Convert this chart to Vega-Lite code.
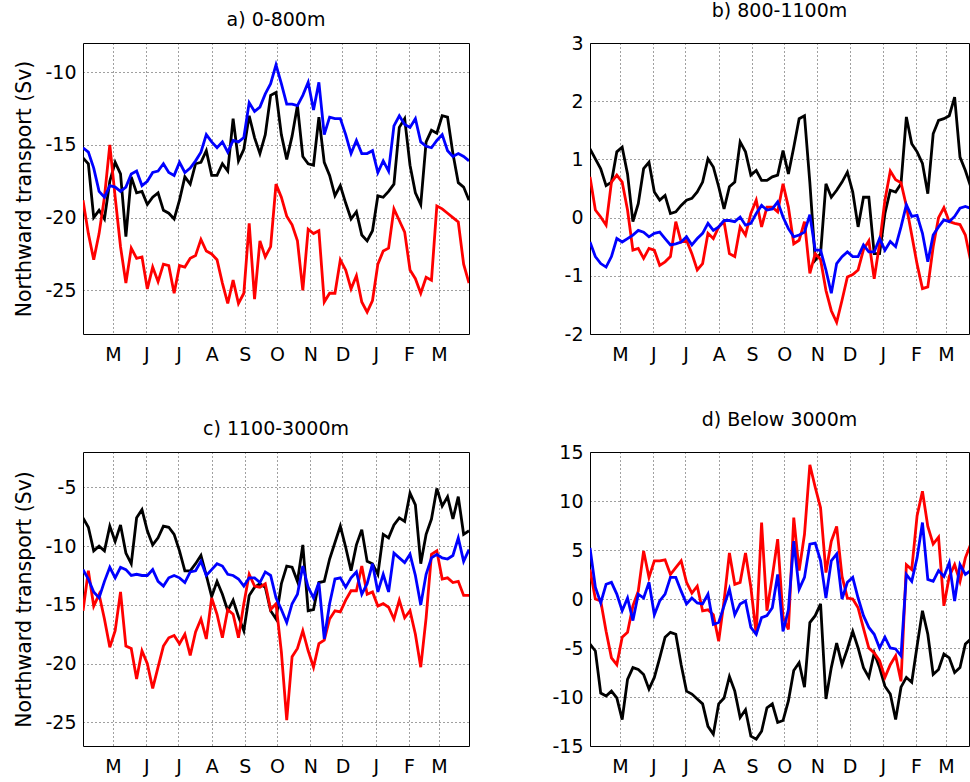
{
"$schema": "https://vega.github.io/schema/vega-lite/v6.json",
"padding": {"left": 14, "top": 1, "right": 0, "bottom": 0},
"background": "white",
"config": {
  "font": "DejaVu Sans",
  "view": {"stroke": "#000", "strokeWidth": 1},
  "axis": {"labelFont": "DejaVu Sans", "labelFontSize": 19, "labelColor": "#000", "grid": true, "gridColor": "#000", "gridDash": [1, 3], "gridOpacity": 0.75, "domain": false, "ticks": false, "titleFont": "DejaVu Sans", "titleFontSize": 20.5, "titleFontWeight": "normal", "titleColor": "#000"},
  "axisX": {"labelPadding": 11},
  "axisY": {"labelPadding": 7, "titlePadding": 10},
  "title": {"font": "DejaVu Sans", "fontSize": 19, "fontWeight": "normal", "color": "#000", "offset": 13, "baseline": "alphabetic", "anchor": "middle"}
},
"columns": 2,
"spacing": {"row": 118, "column": 121},
"bounds": "flush",
"datasets": {
"a": [
{"s":"k","d":0,"v":-15.9},{"s":"k","d":5,"v":-16.3},{"s":"k","d":10,"v":-20.0},{"s":"k","d":15,"v":-19.5},{"s":"k","d":20,"v":-20.1},{"s":"k","d":25,"v":-17.5},{"s":"k","d":30,"v":-16.2},{"s":"k","d":35,"v":-17.0},{"s":"k","d":40,"v":-21.3},{"s":"k","d":45,"v":-17.2},
{"s":"k","d":50,"v":-18.3},{"s":"k","d":55,"v":-18.2},{"s":"k","d":60,"v":-19.1},{"s":"k","d":65,"v":-18.6},{"s":"k","d":70,"v":-18.3},{"s":"k","d":75,"v":-19.5},{"s":"k","d":80,"v":-19.7},{"s":"k","d":85,"v":-20.1},{"s":"k","d":90,"v":-18.8},{"s":"k","d":95,"v":-17.2},
{"s":"k","d":100,"v":-17.7},{"s":"k","d":105,"v":-16.3},{"s":"k","d":110,"v":-16.2},{"s":"k","d":115,"v":-15.4},{"s":"k","d":120,"v":-17.1},{"s":"k","d":125,"v":-17.1},{"s":"k","d":130,"v":-16.3},{"s":"k","d":135,"v":-16.8},{"s":"k","d":140,"v":-13.2},{"s":"k","d":145,"v":-16.1},
{"s":"k","d":150,"v":-15.3},{"s":"k","d":155,"v":-13.0},{"s":"k","d":160,"v":-14.5},{"s":"k","d":165,"v":-15.6},{"s":"k","d":170,"v":-14.3},{"s":"k","d":175,"v":-11.6},{"s":"k","d":180,"v":-11.4},{"s":"k","d":185,"v":-14.3},{"s":"k","d":190,"v":-16.0},{"s":"k","d":195,"v":-14.4},
{"s":"k","d":200,"v":-12.3},{"s":"k","d":205,"v":-15.8},{"s":"k","d":210,"v":-16.3},{"s":"k","d":215,"v":-16.4},{"s":"k","d":220,"v":-13.1},{"s":"k","d":225,"v":-16.2},{"s":"k","d":230,"v":-17.1},{"s":"k","d":235,"v":-18.5},{"s":"k","d":240,"v":-17.8},{"s":"k","d":245,"v":-19.0},
{"s":"k","d":250,"v":-20.1},{"s":"k","d":255,"v":-19.6},{"s":"k","d":260,"v":-21.2},{"s":"k","d":265,"v":-21.6},{"s":"k","d":270,"v":-20.9},{"s":"k","d":275,"v":-18.5},{"s":"k","d":280,"v":-18.6},{"s":"k","d":285,"v":-18.2},{"s":"k","d":290,"v":-17.7},{"s":"k","d":295,"v":-13.8},
{"s":"k","d":300,"v":-13.2},{"s":"k","d":305,"v":-16.4},{"s":"k","d":310,"v":-18.3},{"s":"k","d":315,"v":-19.1},{"s":"k","d":320,"v":-14.8},{"s":"k","d":325,"v":-14.0},{"s":"k","d":330,"v":-14.2},{"s":"k","d":335,"v":-13.0},{"s":"k","d":340,"v":-13.1},{"s":"k","d":345,"v":-15.6},
{"s":"k","d":350,"v":-17.6},{"s":"k","d":355,"v":-17.9},{"s":"k","d":360,"v":-18.8},
{"s":"r","d":0,"v":-18.8},{"s":"r","d":5,"v":-21.1},{"s":"r","d":10,"v":-22.9},{"s":"r","d":15,"v":-21.1},{"s":"r","d":20,"v":-18.6},{"s":"r","d":25,"v":-15.0},{"s":"r","d":30,"v":-18.6},{"s":"r","d":35,"v":-22.0},{"s":"r","d":40,"v":-24.5},{"s":"r","d":45,"v":-22.1},
{"s":"r","d":50,"v":-22.8},{"s":"r","d":55,"v":-22.7},{"s":"r","d":60,"v":-24.9},{"s":"r","d":65,"v":-23.4},{"s":"r","d":70,"v":-24.4},{"s":"r","d":75,"v":-23.2},{"s":"r","d":80,"v":-23.3},{"s":"r","d":85,"v":-25.2},{"s":"r","d":90,"v":-23.3},{"s":"r","d":95,"v":-23.4},
{"s":"r","d":100,"v":-22.8},{"s":"r","d":105,"v":-22.6},{"s":"r","d":110,"v":-21.5},{"s":"r","d":115,"v":-22.3},{"s":"r","d":120,"v":-22.5},{"s":"r","d":125,"v":-22.9},{"s":"r","d":130,"v":-24.5},{"s":"r","d":135,"v":-25.9},{"s":"r","d":140,"v":-24.3},{"s":"r","d":145,"v":-25.9},
{"s":"r","d":150,"v":-25.2},{"s":"r","d":155,"v":-20.4},{"s":"r","d":160,"v":-25.6},{"s":"r","d":165,"v":-21.6},{"s":"r","d":170,"v":-22.7},{"s":"r","d":175,"v":-22.0},{"s":"r","d":180,"v":-17.7},{"s":"r","d":185,"v":-18.6},{"s":"r","d":190,"v":-19.9},{"s":"r","d":195,"v":-20.5},
{"s":"r","d":200,"v":-21.6},{"s":"r","d":205,"v":-25.0},{"s":"r","d":210,"v":-20.8},{"s":"r","d":215,"v":-21.1},{"s":"r","d":220,"v":-20.9},{"s":"r","d":225,"v":-25.8},{"s":"r","d":230,"v":-25.2},{"s":"r","d":235,"v":-25.2},{"s":"r","d":240,"v":-22.9},{"s":"r","d":245,"v":-23.6},
{"s":"r","d":250,"v":-24.9},{"s":"r","d":255,"v":-24.0},{"s":"r","d":260,"v":-25.8},{"s":"r","d":265,"v":-26.5},{"s":"r","d":270,"v":-25.7},{"s":"r","d":275,"v":-23.2},{"s":"r","d":280,"v":-22.3},{"s":"r","d":285,"v":-22.1},{"s":"r","d":290,"v":-19.4},{"s":"r","d":295,"v":-20.2},
{"s":"r","d":300,"v":-21.0},{"s":"r","d":305,"v":-23.6},{"s":"r","d":310,"v":-24.2},{"s":"r","d":315,"v":-25.2},{"s":"r","d":320,"v":-24.1},{"s":"r","d":325,"v":-24.3},{"s":"r","d":330,"v":-19.2},{"s":"r","d":335,"v":-19.4},{"s":"r","d":340,"v":-19.7},{"s":"r","d":345,"v":-20.0},
{"s":"r","d":350,"v":-20.3},{"s":"r","d":355,"v":-23.2},{"s":"r","d":360,"v":-24.5},
{"s":"b","d":0,"v":-15.2},{"s":"b","d":5,"v":-15.5},{"s":"b","d":10,"v":-16.6},{"s":"b","d":15,"v":-18.2},{"s":"b","d":20,"v":-18.6},{"s":"b","d":25,"v":-17.8},{"s":"b","d":30,"v":-17.9},{"s":"b","d":35,"v":-18.2},{"s":"b","d":40,"v":-17.9},{"s":"b","d":45,"v":-17.0},
{"s":"b","d":50,"v":-16.8},{"s":"b","d":55,"v":-17.8},{"s":"b","d":60,"v":-17.5},{"s":"b","d":65,"v":-16.9},{"s":"b","d":70,"v":-16.8},{"s":"b","d":75,"v":-16.3},{"s":"b","d":80,"v":-16.9},{"s":"b","d":85,"v":-17.1},{"s":"b","d":90,"v":-16.2},{"s":"b","d":95,"v":-16.9},
{"s":"b","d":100,"v":-16.6},{"s":"b","d":105,"v":-16.1},{"s":"b","d":110,"v":-15.5},{"s":"b","d":115,"v":-14.3},{"s":"b","d":120,"v":-14.8},{"s":"b","d":125,"v":-15.2},{"s":"b","d":130,"v":-14.8},{"s":"b","d":135,"v":-15.5},{"s":"b","d":140,"v":-14.7},{"s":"b","d":145,"v":-14.8},
{"s":"b","d":150,"v":-14.5},{"s":"b","d":155,"v":-12.1},{"s":"b","d":160,"v":-12.7},{"s":"b","d":165,"v":-12.4},{"s":"b","d":170,"v":-11.5},{"s":"b","d":175,"v":-10.8},{"s":"b","d":180,"v":-9.5},{"s":"b","d":185,"v":-10.8},{"s":"b","d":190,"v":-12.2},{"s":"b","d":195,"v":-12.2},
{"s":"b","d":200,"v":-12.3},{"s":"b","d":205,"v":-11.6},{"s":"b","d":210,"v":-10.7},{"s":"b","d":215,"v":-12.6},{"s":"b","d":220,"v":-10.7},{"s":"b","d":225,"v":-14.3},{"s":"b","d":230,"v":-13.1},{"s":"b","d":235,"v":-13.2},{"s":"b","d":240,"v":-13.2},{"s":"b","d":245,"v":-14.3},
{"s":"b","d":250,"v":-15.6},{"s":"b","d":255,"v":-14.7},{"s":"b","d":260,"v":-15.6},{"s":"b","d":265,"v":-15.6},{"s":"b","d":270,"v":-15.4},{"s":"b","d":275,"v":-16.9},{"s":"b","d":280,"v":-16.1},{"s":"b","d":285,"v":-16.8},{"s":"b","d":290,"v":-13.7},{"s":"b","d":295,"v":-13.0},
{"s":"b","d":300,"v":-13.6},{"s":"b","d":305,"v":-13.8},{"s":"b","d":310,"v":-13.2},{"s":"b","d":315,"v":-14.8},{"s":"b","d":320,"v":-15.1},{"s":"b","d":325,"v":-15.2},{"s":"b","d":330,"v":-14.7},{"s":"b","d":335,"v":-14.3},{"s":"b","d":340,"v":-15.4},{"s":"b","d":345,"v":-15.8},
{"s":"b","d":350,"v":-15.6},{"s":"b","d":355,"v":-15.8},{"s":"b","d":360,"v":-16.1}
],
"b": [
{"s":"k","d":0,"v":1.18},{"s":"k","d":5,"v":1.01},{"s":"k","d":10,"v":0.84},{"s":"k","d":15,"v":0.55},{"s":"k","d":20,"v":0.61},{"s":"k","d":25,"v":1.13},{"s":"k","d":30,"v":1.21},{"s":"k","d":35,"v":0.75},{"s":"k","d":40,"v":-0.07},{"s":"k","d":45,"v":0.24},
{"s":"k","d":50,"v":0.84},{"s":"k","d":55,"v":0.95},{"s":"k","d":60,"v":0.44},{"s":"k","d":65,"v":0.30},{"s":"k","d":70,"v":0.38},{"s":"k","d":75,"v":0.07},{"s":"k","d":80,"v":0.10},{"s":"k","d":85,"v":0.21},{"s":"k","d":90,"v":0.30},{"s":"k","d":95,"v":0.33},
{"s":"k","d":100,"v":0.44},{"s":"k","d":105,"v":0.61},{"s":"k","d":110,"v":1.01},{"s":"k","d":115,"v":0.87},{"s":"k","d":120,"v":0.53},{"s":"k","d":125,"v":0.15},{"s":"k","d":130,"v":0.53},{"s":"k","d":135,"v":0.61},{"s":"k","d":140,"v":1.30},{"s":"k","d":145,"v":1.13},
{"s":"k","d":150,"v":0.73},{"s":"k","d":155,"v":0.81},{"s":"k","d":160,"v":0.64},{"s":"k","d":165,"v":0.64},{"s":"k","d":170,"v":0.70},{"s":"k","d":175,"v":0.73},{"s":"k","d":180,"v":1.15},{"s":"k","d":185,"v":0.75},{"s":"k","d":190,"v":1.21},{"s":"k","d":195,"v":1.70},
{"s":"k","d":200,"v":1.75},{"s":"k","d":205,"v":0.60},{"s":"k","d":210,"v":-0.73},{"s":"k","d":215,"v":-0.62},{"s":"k","d":220,"v":0.58},{"s":"k","d":225,"v":0.35},{"s":"k","d":230,"v":0.47},{"s":"k","d":235,"v":0.61},{"s":"k","d":240,"v":0.78},{"s":"k","d":245,"v":0.44},
{"s":"k","d":250,"v":-0.16},{"s":"k","d":255,"v":0.35},{"s":"k","d":260,"v":0.35},{"s":"k","d":265,"v":-0.62},{"s":"k","d":270,"v":-0.62},{"s":"k","d":275,"v":0.07},{"s":"k","d":280,"v":0.47},{"s":"k","d":285,"v":0.44},{"s":"k","d":290,"v":0.58},{"s":"k","d":295,"v":1.73},
{"s":"k","d":300,"v":1.27},{"s":"k","d":305,"v":1.13},{"s":"k","d":310,"v":0.93},{"s":"k","d":315,"v":0.41},{"s":"k","d":320,"v":1.44},{"s":"k","d":325,"v":1.67},{"s":"k","d":330,"v":1.70},{"s":"k","d":335,"v":1.75},{"s":"k","d":340,"v":2.07},{"s":"k","d":345,"v":1.04},
{"s":"k","d":350,"v":0.81},{"s":"k","d":355,"v":0.53},{"s":"k","d":360,"v":0.40},
{"s":"r","d":0,"v":0.70},{"s":"r","d":5,"v":0.13},{"s":"r","d":10,"v":0.01},{"s":"r","d":15,"v":-0.13},{"s":"r","d":20,"v":0.61},{"s":"r","d":25,"v":0.73},{"s":"r","d":30,"v":0.61},{"s":"r","d":35,"v":0.13},{"s":"r","d":40,"v":-0.56},{"s":"r","d":45,"v":-0.53},
{"s":"r","d":50,"v":-0.70},{"s":"r","d":55,"v":-0.53},{"s":"r","d":60,"v":-0.56},{"s":"r","d":65,"v":-0.82},{"s":"r","d":70,"v":-0.76},{"s":"r","d":75,"v":-0.67},{"s":"r","d":80,"v":-0.07},{"s":"r","d":85,"v":-0.42},{"s":"r","d":90,"v":-0.39},{"s":"r","d":95,"v":-0.62},
{"s":"r","d":100,"v":-0.90},{"s":"r","d":105,"v":-0.79},{"s":"r","d":110,"v":-0.27},{"s":"r","d":115,"v":-0.36},{"s":"r","d":120,"v":-0.16},{"s":"r","d":125,"v":-0.07},{"s":"r","d":130,"v":-0.62},{"s":"r","d":135,"v":-0.67},{"s":"r","d":140,"v":-0.16},{"s":"r","d":145,"v":-0.30},
{"s":"r","d":150,"v":0.07},{"s":"r","d":155,"v":0.30},{"s":"r","d":160,"v":-0.16},{"s":"r","d":165,"v":0.18},{"s":"r","d":170,"v":0.18},{"s":"r","d":175,"v":0.10},{"s":"r","d":180,"v":0.58},{"s":"r","d":185,"v":0.18},{"s":"r","d":190,"v":-0.45},{"s":"r","d":195,"v":-0.39},
{"s":"r","d":200,"v":-0.07},{"s":"r","d":205,"v":-0.96},{"s":"r","d":210,"v":-0.62},{"s":"r","d":215,"v":-0.72},{"s":"r","d":220,"v":-1.25},{"s":"r","d":225,"v":-1.60},{"s":"r","d":230,"v":-1.80},{"s":"r","d":235,"v":-1.42},{"s":"r","d":240,"v":-1.02},{"s":"r","d":245,"v":-0.98},
{"s":"r","d":250,"v":-0.90},{"s":"r","d":255,"v":-0.55},{"s":"r","d":260,"v":-0.40},{"s":"r","d":265,"v":-1.05},{"s":"r","d":270,"v":-0.45},{"s":"r","d":275,"v":0.30},{"s":"r","d":280,"v":0.80},{"s":"r","d":285,"v":0.65},{"s":"r","d":290,"v":0.60},{"s":"r","d":295,"v":0.20},
{"s":"r","d":300,"v":-0.30},{"s":"r","d":305,"v":-0.80},{"s":"r","d":310,"v":-1.22},{"s":"r","d":315,"v":-1.19},{"s":"r","d":320,"v":-0.50},{"s":"r","d":325,"v":0.00},{"s":"r","d":330,"v":0.17},{"s":"r","d":335,"v":-0.07},{"s":"r","d":340,"v":-0.10},{"s":"r","d":345,"v":-0.12},
{"s":"r","d":350,"v":-0.30},{"s":"r","d":355,"v":-0.75},{"s":"r","d":360,"v":-0.90},
{"s":"b","d":0,"v":-0.42},{"s":"b","d":5,"v":-0.67},{"s":"b","d":10,"v":-0.79},{"s":"b","d":15,"v":-0.85},{"s":"b","d":20,"v":-0.67},{"s":"b","d":25,"v":-0.36},{"s":"b","d":30,"v":-0.42},{"s":"b","d":35,"v":-0.36},{"s":"b","d":40,"v":-0.30},{"s":"b","d":45,"v":-0.22},
{"s":"b","d":50,"v":-0.25},{"s":"b","d":55,"v":-0.33},{"s":"b","d":60,"v":-0.27},{"s":"b","d":65,"v":-0.25},{"s":"b","d":70,"v":-0.36},{"s":"b","d":75,"v":-0.47},{"s":"b","d":80,"v":-0.45},{"s":"b","d":85,"v":-0.42},{"s":"b","d":90,"v":-0.33},{"s":"b","d":95,"v":-0.47},
{"s":"b","d":100,"v":-0.36},{"s":"b","d":105,"v":-0.27},{"s":"b","d":110,"v":-0.10},{"s":"b","d":115,"v":-0.22},{"s":"b","d":120,"v":-0.16},{"s":"b","d":125,"v":-0.05},{"s":"b","d":130,"v":-0.05},{"s":"b","d":135,"v":-0.07},{"s":"b","d":140,"v":0.01},{"s":"b","d":145,"v":-0.13},
{"s":"b","d":150,"v":-0.10},{"s":"b","d":155,"v":0.07},{"s":"b","d":160,"v":0.21},{"s":"b","d":165,"v":0.13},{"s":"b","d":170,"v":0.15},{"s":"b","d":175,"v":0.27},{"s":"b","d":180,"v":0.01},{"s":"b","d":185,"v":-0.19},{"s":"b","d":190,"v":-0.33},{"s":"b","d":195,"v":-0.30},
{"s":"b","d":200,"v":-0.25},{"s":"b","d":205,"v":0.05},{"s":"b","d":210,"v":-0.56},{"s":"b","d":215,"v":-0.56},{"s":"b","d":220,"v":-0.90},{"s":"b","d":225,"v":-1.30},{"s":"b","d":230,"v":-0.79},{"s":"b","d":235,"v":-0.67},{"s":"b","d":240,"v":-0.59},{"s":"b","d":245,"v":-0.67},
{"s":"b","d":250,"v":-0.67},{"s":"b","d":255,"v":-0.47},{"s":"b","d":260,"v":-0.59},{"s":"b","d":265,"v":-0.59},{"s":"b","d":270,"v":-0.36},{"s":"b","d":275,"v":-0.56},{"s":"b","d":280,"v":-0.41},{"s":"b","d":285,"v":-0.50},{"s":"b","d":290,"v":-0.16},{"s":"b","d":295,"v":0.22},
{"s":"b","d":300,"v":0.02},{"s":"b","d":305,"v":0.04},{"s":"b","d":310,"v":-0.27},{"s":"b","d":315,"v":-0.76},{"s":"b","d":320,"v":-0.30},{"s":"b","d":325,"v":-0.16},{"s":"b","d":330,"v":-0.04},{"s":"b","d":335,"v":-0.07},{"s":"b","d":340,"v":0.02},{"s":"b","d":345,"v":0.16},
{"s":"b","d":350,"v":0.19},{"s":"b","d":355,"v":0.16},{"s":"b","d":360,"v":0.10}
],
"c": [
{"s":"k","d":0,"v":-7.6},{"s":"k","d":5,"v":-8.4},{"s":"k","d":10,"v":-10.4},{"s":"k","d":15,"v":-10.0},{"s":"k","d":20,"v":-10.4},{"s":"k","d":25,"v":-8.3},{"s":"k","d":30,"v":-9.6},{"s":"k","d":35,"v":-8.2},{"s":"k","d":40,"v":-10.6},{"s":"k","d":45,"v":-11.5},
{"s":"k","d":50,"v":-7.6},{"s":"k","d":55,"v":-6.9},{"s":"k","d":60,"v":-8.7},{"s":"k","d":65,"v":-9.9},{"s":"k","d":70,"v":-9.3},{"s":"k","d":75,"v":-8.3},{"s":"k","d":80,"v":-8.4},{"s":"k","d":85,"v":-9.0},{"s":"k","d":90,"v":-10.4},{"s":"k","d":95,"v":-12.1},
{"s":"k","d":100,"v":-12.1},{"s":"k","d":105,"v":-11.5},{"s":"k","d":110,"v":-10.8},{"s":"k","d":115,"v":-12.5},{"s":"k","d":120,"v":-14.3},{"s":"k","d":125,"v":-13.0},{"s":"k","d":130,"v":-14.1},{"s":"k","d":135,"v":-15.5},{"s":"k","d":140,"v":-14.6},{"s":"k","d":145,"v":-16.0},
{"s":"k","d":150,"v":-17.2},{"s":"k","d":155,"v":-14.2},{"s":"k","d":160,"v":-13.5},{"s":"k","d":165,"v":-13.2},{"s":"k","d":170,"v":-13.5},{"s":"k","d":175,"v":-15.5},{"s":"k","d":180,"v":-16.2},{"s":"k","d":185,"v":-13.2},{"s":"k","d":190,"v":-11.7},{"s":"k","d":195,"v":-11.8},
{"s":"k","d":200,"v":-13.0},{"s":"k","d":205,"v":-9.9},{"s":"k","d":210,"v":-15.5},{"s":"k","d":215,"v":-15.4},{"s":"k","d":220,"v":-13.1},{"s":"k","d":225,"v":-13.0},{"s":"k","d":230,"v":-11.1},{"s":"k","d":235,"v":-9.7},{"s":"k","d":240,"v":-8.3},{"s":"k","d":245,"v":-10.1},
{"s":"k","d":250,"v":-12.1},{"s":"k","d":255,"v":-9.9},{"s":"k","d":260,"v":-8.6},{"s":"k","d":265,"v":-11.3},{"s":"k","d":270,"v":-11.5},{"s":"k","d":275,"v":-12.4},{"s":"k","d":280,"v":-9.0},{"s":"k","d":285,"v":-9.3},{"s":"k","d":290,"v":-8.2},{"s":"k","d":295,"v":-7.6},
{"s":"k","d":300,"v":-7.9},{"s":"k","d":305,"v":-5.5},{"s":"k","d":310,"v":-6.5},{"s":"k","d":315,"v":-11.5},{"s":"k","d":320,"v":-9.0},{"s":"k","d":325,"v":-7.7},{"s":"k","d":330,"v":-5.1},{"s":"k","d":335,"v":-6.6},{"s":"k","d":340,"v":-5.8},{"s":"k","d":345,"v":-7.7},
{"s":"k","d":350,"v":-5.8},{"s":"k","d":355,"v":-9.0},{"s":"k","d":360,"v":-8.7},
{"s":"r","d":0,"v":-15.5},{"s":"r","d":5,"v":-12.1},{"s":"r","d":10,"v":-15.1},{"s":"r","d":15,"v":-14.1},{"s":"r","d":20,"v":-16.2},{"s":"r","d":25,"v":-18.6},{"s":"r","d":30,"v":-17.2},{"s":"r","d":35,"v":-13.9},{"s":"r","d":40,"v":-18.5},{"s":"r","d":45,"v":-18.7},
{"s":"r","d":50,"v":-21.3},{"s":"r","d":55,"v":-18.9},{"s":"r","d":60,"v":-20.0},{"s":"r","d":65,"v":-22.1},{"s":"r","d":70,"v":-20.3},{"s":"r","d":75,"v":-18.5},{"s":"r","d":80,"v":-17.8},{"s":"r","d":85,"v":-17.6},{"s":"r","d":90,"v":-18.3},{"s":"r","d":95,"v":-17.5},
{"s":"r","d":100,"v":-19.3},{"s":"r","d":105,"v":-17.3},{"s":"r","d":110,"v":-16.2},{"s":"r","d":115,"v":-17.9},{"s":"r","d":120,"v":-14.4},{"s":"r","d":125,"v":-15.8},{"s":"r","d":130,"v":-17.8},{"s":"r","d":135,"v":-15.4},{"s":"r","d":140,"v":-15.8},{"s":"r","d":145,"v":-17.8},
{"s":"r","d":150,"v":-14.9},{"s":"r","d":155,"v":-12.4},{"s":"r","d":160,"v":-13.4},{"s":"r","d":165,"v":-13.5},{"s":"r","d":170,"v":-13.2},{"s":"r","d":175,"v":-15.4},{"s":"r","d":180,"v":-14.9},{"s":"r","d":185,"v":-19.0},{"s":"r","d":190,"v":-24.8},{"s":"r","d":195,"v":-19.4},
{"s":"r","d":200,"v":-18.7},{"s":"r","d":205,"v":-17.2},{"s":"r","d":210,"v":-18.9},{"s":"r","d":215,"v":-20.3},{"s":"r","d":220,"v":-18.3},{"s":"r","d":225,"v":-18.0},{"s":"r","d":230,"v":-16.2},{"s":"r","d":235,"v":-15.5},{"s":"r","d":240,"v":-15.6},{"s":"r","d":245,"v":-14.6},
{"s":"r","d":250,"v":-13.8},{"s":"r","d":255,"v":-13.8},{"s":"r","d":260,"v":-11.7},{"s":"r","d":265,"v":-14.1},{"s":"r","d":270,"v":-13.9},{"s":"r","d":275,"v":-15.1},{"s":"r","d":280,"v":-14.9},{"s":"r","d":285,"v":-15.2},{"s":"r","d":290,"v":-16.2},{"s":"r","d":295,"v":-14.6},
{"s":"r","d":300,"v":-16.1},{"s":"r","d":305,"v":-15.5},{"s":"r","d":310,"v":-17.5},{"s":"r","d":315,"v":-20.3},{"s":"r","d":320,"v":-16.1},{"s":"r","d":325,"v":-10.7},{"s":"r","d":330,"v":-10.4},{"s":"r","d":335,"v":-12.8},{"s":"r","d":340,"v":-12.7},{"s":"r","d":345,"v":-13.1},
{"s":"r","d":350,"v":-13.0},{"s":"r","d":355,"v":-14.2},{"s":"r","d":360,"v":-14.2},
{"s":"b","d":0,"v":-12.0},{"s":"b","d":5,"v":-12.8},{"s":"b","d":10,"v":-13.9},{"s":"b","d":15,"v":-14.4},{"s":"b","d":20,"v":-13.0},{"s":"b","d":25,"v":-11.8},{"s":"b","d":30,"v":-12.7},{"s":"b","d":35,"v":-11.8},{"s":"b","d":40,"v":-12.0},{"s":"b","d":45,"v":-12.5},
{"s":"b","d":50,"v":-12.4},{"s":"b","d":55,"v":-12.5},{"s":"b","d":60,"v":-12.5},{"s":"b","d":65,"v":-12.0},{"s":"b","d":70,"v":-13.0},{"s":"b","d":75,"v":-13.4},{"s":"b","d":80,"v":-12.7},{"s":"b","d":85,"v":-12.5},{"s":"b","d":90,"v":-12.7},{"s":"b","d":95,"v":-13.1},
{"s":"b","d":100,"v":-12.2},{"s":"b","d":105,"v":-12.1},{"s":"b","d":110,"v":-11.3},{"s":"b","d":115,"v":-12.5},{"s":"b","d":120,"v":-12.0},{"s":"b","d":125,"v":-11.5},{"s":"b","d":130,"v":-11.7},{"s":"b","d":135,"v":-12.4},{"s":"b","d":140,"v":-12.5},{"s":"b","d":145,"v":-12.8},
{"s":"b","d":150,"v":-13.4},{"s":"b","d":155,"v":-12.7},{"s":"b","d":160,"v":-12.7},{"s":"b","d":165,"v":-13.1},{"s":"b","d":170,"v":-12.2},{"s":"b","d":175,"v":-12.5},{"s":"b","d":180,"v":-14.4},{"s":"b","d":185,"v":-15.4},{"s":"b","d":190,"v":-16.5},{"s":"b","d":195,"v":-14.9},
{"s":"b","d":200,"v":-14.1},{"s":"b","d":205,"v":-11.7},{"s":"b","d":210,"v":-13.5},{"s":"b","d":215,"v":-14.4},{"s":"b","d":220,"v":-13.1},{"s":"b","d":225,"v":-17.9},{"s":"b","d":230,"v":-14.9},{"s":"b","d":235,"v":-12.8},{"s":"b","d":240,"v":-12.7},{"s":"b","d":245,"v":-13.5},
{"s":"b","d":250,"v":-12.7},{"s":"b","d":255,"v":-12.2},{"s":"b","d":260,"v":-14.1},{"s":"b","d":265,"v":-13.2},{"s":"b","d":270,"v":-11.5},{"s":"b","d":275,"v":-13.9},{"s":"b","d":280,"v":-12.4},{"s":"b","d":285,"v":-13.9},{"s":"b","d":290,"v":-10.6},{"s":"b","d":295,"v":-11.0},
{"s":"b","d":300,"v":-11.4},{"s":"b","d":305,"v":-10.7},{"s":"b","d":310,"v":-12.5},{"s":"b","d":315,"v":-15.0},{"s":"b","d":320,"v":-12.4},{"s":"b","d":325,"v":-11.0},{"s":"b","d":330,"v":-10.7},{"s":"b","d":335,"v":-11.0},{"s":"b","d":340,"v":-11.1},{"s":"b","d":345,"v":-10.8},
{"s":"b","d":350,"v":-9.3},{"s":"b","d":355,"v":-11.3},{"s":"b","d":360,"v":-10.3}
],
"d": [
{"s":"k","d":0,"v":-4.6},{"s":"k","d":5,"v":-5.3},{"s":"k","d":10,"v":-9.6},{"s":"k","d":15,"v":-9.9},{"s":"k","d":20,"v":-9.4},{"s":"k","d":25,"v":-10.1},{"s":"k","d":30,"v":-12.3},{"s":"k","d":35,"v":-8.2},{"s":"k","d":40,"v":-7.0},{"s":"k","d":45,"v":-7.2},
{"s":"k","d":50,"v":-7.7},{"s":"k","d":55,"v":-9.2},{"s":"k","d":60,"v":-8.0},{"s":"k","d":65,"v":-6.0},{"s":"k","d":70,"v":-3.9},{"s":"k","d":75,"v":-3.4},{"s":"k","d":80,"v":-3.6},{"s":"k","d":85,"v":-6.7},{"s":"k","d":90,"v":-9.4},{"s":"k","d":95,"v":-9.7},
{"s":"k","d":100,"v":-10.2},{"s":"k","d":105,"v":-10.7},{"s":"k","d":110,"v":-13.0},{"s":"k","d":115,"v":-13.8},{"s":"k","d":120,"v":-10.7},{"s":"k","d":125,"v":-10.1},{"s":"k","d":130,"v":-7.9},{"s":"k","d":135,"v":-9.4},{"s":"k","d":140,"v":-12.1},{"s":"k","d":145,"v":-11.3},
{"s":"k","d":150,"v":-14.0},{"s":"k","d":155,"v":-14.3},{"s":"k","d":160,"v":-13.5},{"s":"k","d":165,"v":-11.1},{"s":"k","d":170,"v":-10.7},{"s":"k","d":175,"v":-12.6},{"s":"k","d":180,"v":-12.4},{"s":"k","d":185,"v":-10.4},{"s":"k","d":190,"v":-7.3},{"s":"k","d":195,"v":-6.5},
{"s":"k","d":200,"v":-9.0},{"s":"k","d":205,"v":-2.4},{"s":"k","d":210,"v":-1.7},{"s":"k","d":215,"v":-0.5},{"s":"k","d":220,"v":-10.2},{"s":"k","d":225,"v":-7.0},{"s":"k","d":230,"v":-4.5},{"s":"k","d":235,"v":-6.7},{"s":"k","d":240,"v":-5.1},{"s":"k","d":245,"v":-3.3},
{"s":"k","d":250,"v":-5.0},{"s":"k","d":255,"v":-7.0},{"s":"k","d":260,"v":-8.0},{"s":"k","d":265,"v":-5.5},{"s":"k","d":270,"v":-7.0},{"s":"k","d":275,"v":-8.9},{"s":"k","d":280,"v":-9.7},{"s":"k","d":285,"v":-12.3},{"s":"k","d":290,"v":-9.0},{"s":"k","d":295,"v":-8.0},
{"s":"k","d":300,"v":-8.5},{"s":"k","d":305,"v":-4.8},{"s":"k","d":310,"v":-1.2},{"s":"k","d":315,"v":-3.6},{"s":"k","d":320,"v":-7.7},{"s":"k","d":325,"v":-7.2},{"s":"k","d":330,"v":-5.6},{"s":"k","d":335,"v":-6.0},{"s":"k","d":340,"v":-7.5},{"s":"k","d":345,"v":-7.0},
{"s":"k","d":350,"v":-4.6},{"s":"k","d":355,"v":-4.1},{"s":"k","d":360,"v":-4.0},
{"s":"r","d":0,"v":3.0},{"s":"r","d":5,"v":0.0},{"s":"r","d":10,"v":-0.2},{"s":"r","d":15,"v":-3.3},{"s":"r","d":20,"v":-6.0},{"s":"r","d":25,"v":-6.7},{"s":"r","d":30,"v":-3.9},{"s":"r","d":35,"v":-3.4},{"s":"r","d":40,"v":-0.7},{"s":"r","d":45,"v":0.8},
{"s":"r","d":50,"v":4.9},{"s":"r","d":55,"v":2.2},{"s":"r","d":60,"v":3.9},{"s":"r","d":65,"v":3.9},{"s":"r","d":70,"v":4.0},{"s":"r","d":75,"v":2.5},{"s":"r","d":80,"v":3.2},{"s":"r","d":85,"v":3.9},{"s":"r","d":90,"v":1.7},{"s":"r","d":95,"v":0.6},
{"s":"r","d":100,"v":1.3},{"s":"r","d":105,"v":-1.2},{"s":"r","d":110,"v":-1.1},{"s":"r","d":115,"v":-1.6},{"s":"r","d":120,"v":-4.3},{"s":"r","d":125,"v":-0.2},{"s":"r","d":130,"v":4.7},{"s":"r","d":135,"v":1.5},{"s":"r","d":140,"v":1.7},{"s":"r","d":145,"v":4.7},
{"s":"r","d":150,"v":1.2},{"s":"r","d":155,"v":-3.6},{"s":"r","d":160,"v":7.8},{"s":"r","d":165,"v":-1.2},{"s":"r","d":170,"v":2.3},{"s":"r","d":175,"v":6.1},{"s":"r","d":180,"v":-1.9},{"s":"r","d":185,"v":-3.1},{"s":"r","d":190,"v":8.3},{"s":"r","d":195,"v":2.9},
{"s":"r","d":200,"v":6.6},{"s":"r","d":205,"v":13.7},{"s":"r","d":210,"v":11.4},{"s":"r","d":215,"v":9.3},{"s":"r","d":220,"v":2.7},{"s":"r","d":225,"v":5.9},{"s":"r","d":230,"v":7.4},{"s":"r","d":235,"v":2.3},{"s":"r","d":240,"v":0.1},{"s":"r","d":245,"v":0.0},
{"s":"r","d":250,"v":-0.9},{"s":"r","d":255,"v":-3.0},{"s":"r","d":260,"v":-5.0},{"s":"r","d":265,"v":-5.5},{"s":"r","d":270,"v":-6.3},{"s":"r","d":275,"v":-8.0},{"s":"r","d":280,"v":-6.7},{"s":"r","d":285,"v":-5.8},{"s":"r","d":290,"v":-8.4},{"s":"r","d":295,"v":3.5},
{"s":"r","d":300,"v":3.0},{"s":"r","d":305,"v":8.5},{"s":"r","d":310,"v":11.0},{"s":"r","d":315,"v":7.4},{"s":"r","d":320,"v":5.6},{"s":"r","d":325,"v":6.3},{"s":"r","d":330,"v":-0.7},{"s":"r","d":335,"v":2.3},{"s":"r","d":340,"v":3.5},{"s":"r","d":345,"v":1.8},
{"s":"r","d":350,"v":4.2},{"s":"r","d":355,"v":5.6},{"s":"r","d":360,"v":6.0},
{"s":"b","d":0,"v":5.2},{"s":"b","d":5,"v":1.2},{"s":"b","d":10,"v":-0.4},{"s":"b","d":15,"v":1.5},{"s":"b","d":20,"v":1.7},{"s":"b","d":25,"v":0.5},{"s":"b","d":30,"v":-1.2},{"s":"b","d":35,"v":0.1},{"s":"b","d":40,"v":-2.2},{"s":"b","d":45,"v":0.5},
{"s":"b","d":50,"v":0.1},{"s":"b","d":55,"v":1.7},{"s":"b","d":60,"v":-1.6},{"s":"b","d":65,"v":-0.2},{"s":"b","d":70,"v":0.5},{"s":"b","d":75,"v":2.2},{"s":"b","d":80,"v":2.2},{"s":"b","d":85,"v":0.8},{"s":"b","d":90,"v":-0.5},{"s":"b","d":95,"v":0.1},
{"s":"b","d":100,"v":-0.4},{"s":"b","d":105,"v":-0.5},{"s":"b","d":110,"v":0.5},{"s":"b","d":115,"v":-2.6},{"s":"b","d":120,"v":-2.4},{"s":"b","d":125,"v":-0.7},{"s":"b","d":130,"v":1.0},{"s":"b","d":135,"v":-1.6},{"s":"b","d":140,"v":-0.5},{"s":"b","d":145,"v":-0.2},
{"s":"b","d":150,"v":-2.9},{"s":"b","d":155,"v":-3.6},{"s":"b","d":160,"v":-1.9},{"s":"b","d":165,"v":-1.7},{"s":"b","d":170,"v":-0.9},{"s":"b","d":175,"v":2.5},{"s":"b","d":180,"v":-3.3},{"s":"b","d":185,"v":-1.1},{"s":"b","d":190,"v":5.9},{"s":"b","d":195,"v":1.0},
{"s":"b","d":200,"v":2.2},{"s":"b","d":205,"v":5.6},{"s":"b","d":210,"v":5.7},{"s":"b","d":215,"v":3.9},{"s":"b","d":220,"v":0.1},{"s":"b","d":225,"v":3.9},{"s":"b","d":230,"v":4.6},{"s":"b","d":235,"v":0.0},{"s":"b","d":240,"v":1.7},{"s":"b","d":245,"v":2.2},
{"s":"b","d":250,"v":0.1},{"s":"b","d":255,"v":-1.7},{"s":"b","d":260,"v":-2.9},{"s":"b","d":265,"v":-3.6},{"s":"b","d":270,"v":-5.0},{"s":"b","d":275,"v":-3.9},{"s":"b","d":280,"v":-5.0},{"s":"b","d":285,"v":-5.1},{"s":"b","d":290,"v":-5.8},{"s":"b","d":295,"v":2.5},
{"s":"b","d":300,"v":1.8},{"s":"b","d":305,"v":4.2},{"s":"b","d":310,"v":7.8},{"s":"b","d":315,"v":2.0},{"s":"b","d":320,"v":1.8},{"s":"b","d":325,"v":2.9},{"s":"b","d":330,"v":2.3},{"s":"b","d":335,"v":3.7},{"s":"b","d":340,"v":-0.2},{"s":"b","d":345,"v":3.5},
{"s":"b","d":350,"v":2.5},{"s":"b","d":355,"v":2.9},{"s":"b","d":360,"v":3.0}
]
},
"concat": [
{
  "data": {"name": "a"},
  "width": 386, "height": 291,
  "title": "a) 0-800m",
  "mark": {"type": "line", "strokeWidth": 2.8, "clip": true},
  "encoding": {
    "x": {"field": "d", "type": "quantitative", "scale": {"domain": [0, 360], "nice": false, "zero": false}, "axis": {"title": null, "values": [28, 59, 89, 120, 151, 181, 212, 242, 273, 304, 332], "labelExpr": "['M','J','J','A','S','O','N','D','J','F','M'][indexof([28,59,89,120,151,181,212,242,273,304,332], datum.value)]"}},
    "y": {"field": "v", "type": "quantitative", "scale": {"domain": [-28, -8], "nice": false, "zero": false}, "axis": {"values": [-25, -20, -15, -10], "labelExpr": "'' + datum.value", "title": "Northward transport (Sv)"}},
    "color": {"field": "s", "type": "nominal", "scale": {"domain": ["k", "r", "b"], "range": ["#000000", "#ff0000", "#0000ff"]}, "legend": null}
  }
},
{
  "data": {"name": "b"},
  "width": 379, "height": 291,
  "title": "b) 800-1100m",
  "mark": {"type": "line", "strokeWidth": 2.8, "clip": true},
  "encoding": {
    "x": {"field": "d", "type": "quantitative", "scale": {"domain": [0, 353.4], "nice": false, "zero": false}, "axis": {"title": null, "values": [28, 59, 89, 120, 151, 181, 212, 242, 273, 304, 332], "labelExpr": "['M','J','J','A','S','O','N','D','J','F','M'][indexof([28,59,89,120,151,181,212,242,273,304,332], datum.value)]"}},
    "y": {"field": "v", "type": "quantitative", "scale": {"domain": [-2, 3], "nice": false, "zero": false}, "axis": {"values": [-2, -1, 0, 1, 2, 3], "labelExpr": "'' + datum.value", "title": null}},
    "color": {"field": "s", "type": "nominal", "scale": {"domain": ["k", "r", "b"], "range": ["#000000", "#ff0000", "#0000ff"]}, "legend": null}
  }
},
{
  "data": {"name": "c"},
  "width": 386, "height": 294,
  "title": "c) 1100-3000m",
  "mark": {"type": "line", "strokeWidth": 2.8, "clip": true},
  "encoding": {
    "x": {"field": "d", "type": "quantitative", "scale": {"domain": [0, 360], "nice": false, "zero": false}, "axis": {"title": null, "values": [28, 59, 89, 120, 151, 181, 212, 242, 273, 304, 332], "labelExpr": "['M','J','J','A','S','O','N','D','J','F','M'][indexof([28,59,89,120,151,181,212,242,273,304,332], datum.value)]"}},
    "y": {"field": "v", "type": "quantitative", "scale": {"domain": [-27, -2], "nice": false, "zero": false}, "axis": {"values": [-25, -20, -15, -10, -5], "labelExpr": "'' + datum.value", "title": "Northward transport (Sv)"}},
    "color": {"field": "s", "type": "nominal", "scale": {"domain": ["k", "r", "b"], "range": ["#000000", "#ff0000", "#0000ff"]}, "legend": null}
  }
},
{
  "data": {"name": "d"},
  "width": 379, "height": 294,
  "title": "d) Below 3000m",
  "mark": {"type": "line", "strokeWidth": 2.8, "clip": true},
  "encoding": {
    "x": {"field": "d", "type": "quantitative", "scale": {"domain": [0, 353.4], "nice": false, "zero": false}, "axis": {"title": null, "values": [28, 59, 89, 120, 151, 181, 212, 242, 273, 304, 332], "labelExpr": "['M','J','J','A','S','O','N','D','J','F','M'][indexof([28,59,89,120,151,181,212,242,273,304,332], datum.value)]"}},
    "y": {"field": "v", "type": "quantitative", "scale": {"domain": [-15, 15], "nice": false, "zero": false}, "axis": {"values": [-15, -10, -5, 0, 5, 10, 15], "labelExpr": "'' + datum.value", "title": null}},
    "color": {"field": "s", "type": "nominal", "scale": {"domain": ["k", "r", "b"], "range": ["#000000", "#ff0000", "#0000ff"]}, "legend": null}
  }
}
]
}
